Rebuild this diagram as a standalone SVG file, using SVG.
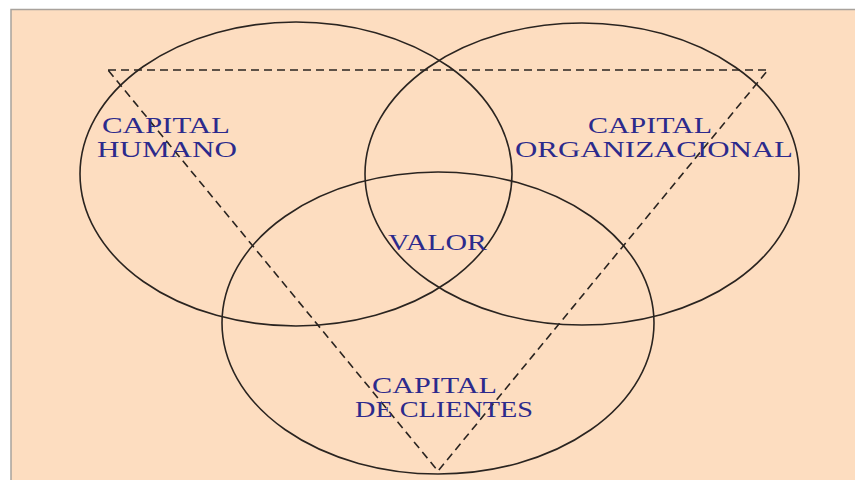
<svg xmlns="http://www.w3.org/2000/svg" width="855" height="480" viewBox="0 0 855 480">
<style>
.bg{fill:#FDDDC0;stroke:#A8A29C;stroke-width:1.5}
.circ{fill:none;stroke:#2A2420;stroke-width:1.6}
.tri{fill:none;stroke:#2A2420;stroke-width:1.6;stroke-dasharray:8 5}
.lbl{font-family:"Liberation Serif","Times New Roman",serif;font-size:24px;fill:#2C2A8C}
</style>
<rect x="0" y="0" width="855" height="480" fill="#FFFFFF"/>
<rect class="bg" x="11" y="9.5" width="850" height="475"/>
<g id="connectors">
<ellipse id="circle-humano" class="circ" cx="296" cy="174" rx="216" ry="152"/>
<ellipse id="circle-organizacional" class="circ" cx="582" cy="174" rx="217" ry="151"/>
<ellipse id="circle-clientes" class="circ" cx="438" cy="323" rx="216" ry="151"/>
<polygon id="triangle" class="tri" points="108,70 768,70 438,471"/>
</g>
<g id="capital-humano">
<text class="lbl" x="102" y="133" textLength="128" lengthAdjust="spacingAndGlyphs">CAPITAL</text>
<text class="lbl" x="97" y="157" textLength="140" lengthAdjust="spacingAndGlyphs">HUMANO</text>
</g>
<g id="capital-organizacional">
<text class="lbl" x="588" y="133" textLength="124" lengthAdjust="spacingAndGlyphs">CAPITAL</text>
<text class="lbl" x="515" y="157" textLength="278" lengthAdjust="spacingAndGlyphs">ORGANIZACIONAL</text>
</g>
<g id="valor">
<text class="lbl" x="388" y="250" textLength="99" lengthAdjust="spacingAndGlyphs">VALOR</text>
</g>
<g id="capital-clientes">
<text class="lbl" x="372" y="393" textLength="125" lengthAdjust="spacingAndGlyphs">CAPITAL</text>
<text class="lbl" x="355" y="417" textLength="178" lengthAdjust="spacingAndGlyphs">DE CLIENTES</text>
</g>
</svg>
